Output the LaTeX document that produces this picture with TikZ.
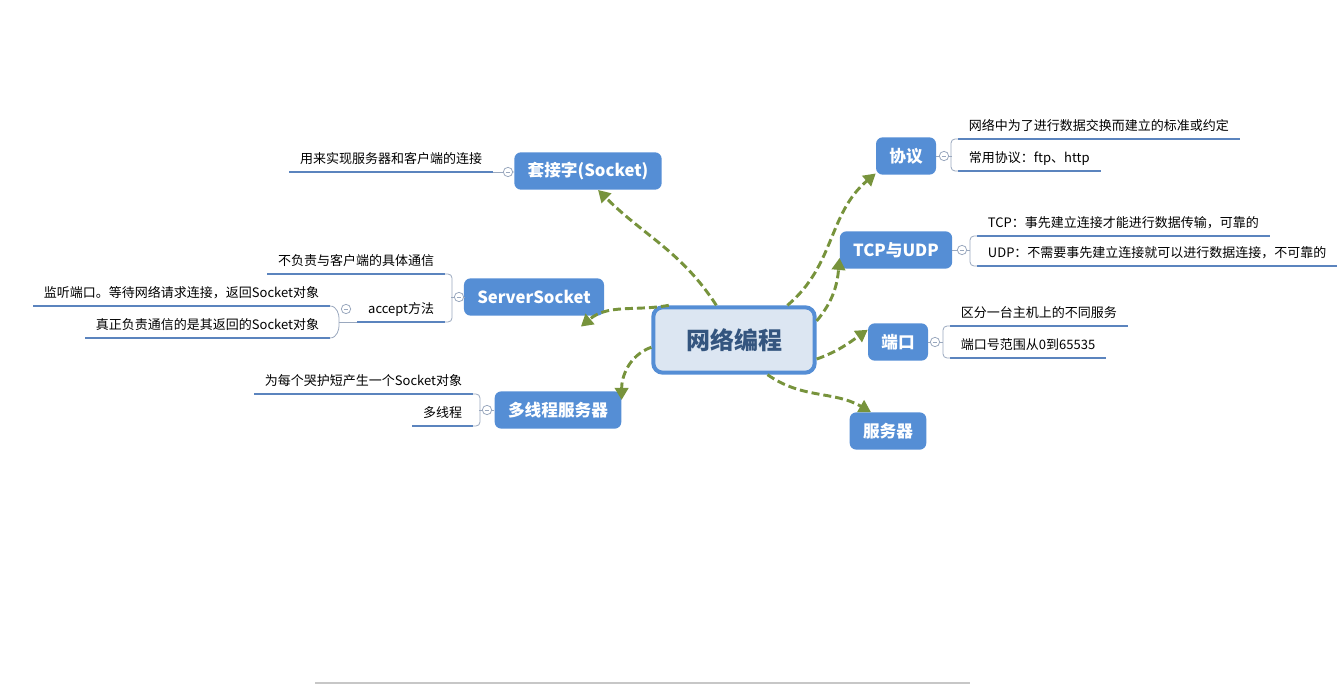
\documentclass[tikz,border=0pt]{standalone}
\usepackage{fontspec}
\setmainfont{Noto Sans CJK SC}
\usepackage{xcolor}
\usepackage{tikz}
\usetikzlibrary{arrows.meta}
\usetikzlibrary{positioning}

\definecolor{topicblue}{HTML}{558ED5}
\definecolor{rootfill}{HTML}{DCE6F2}
\definecolor{roottext}{HTML}{34557F}
\definecolor{linegreen}{HTML}{77933C}
\definecolor{ulineblue}{HTML}{5B84BE}
\definecolor{foldgray}{HTML}{9AA8BE}

\begin{document}
\begin{tikzpicture}[
    x=0.75pt, y=-0.75pt,
    root/.style={draw=topicblue, line width=3pt, fill=rootfill, rounded corners=7pt,
      minimum width=121pt, minimum height=49pt, text=roottext,
      font=\bfseries\fontsize{18}{20}\selectfont},
    topic/.style={fill=topicblue, rounded corners=5pt, text=white, inner xsep=10pt,
      minimum height=28pt, font=\bfseries\fontsize{12.5}{14}\selectfont},
    leaf/.style={inner xsep=8pt, inner ysep=4.5pt, text height=8pt, text depth=2pt,
      font=\fontsize{9.75}{11}\selectfont},
    fold/.style={circle, draw=foldgray, fill=white, line width=0.6pt, minimum size=7pt,
      inner sep=0pt, path picture={\draw[foldgray, line width=0.6pt]
        ([xshift=1.8pt]path picture bounding box.west) --
        ([xshift=-1.8pt]path picture bounding box.east);}},
    link/.style={linegreen, line width=2.2pt, dash pattern=on 6pt off 3pt,
      -{Triangle[length=9pt,width=10pt]}},
    uline/.style={ulineblue, line width=2.2pt},
    brk/.style={foldgray, line width=0.6pt, rounded corners=3pt},
  ]

  \useasboundingbox (0,0) rectangle (1341,684);

  \node[root] (c) at (734,340) {网络编程};

  \node[topic] (sk)  at (588,171) {套接字(Socket)};
  \node[topic] (ss)  at (534,297) {ServerSocket};
  \node[topic] (mt)  at (558,410) {多线程服务器};
  \node[topic] (xy)  at (906,156) {协议};
  \node[topic] (tu)  at (896,250) {TCP与UDP};
  \node[topic] (dk)  at (898,342) {端口};
  \node[topic] (fwq) at (888,431) {服务器};

  % left side
  \node[leaf, anchor=south east] (sk1) at (493,172) {用来实现服务器和客户端的连接};
  \node[leaf, anchor=south east] (ss1) at (445,274) {不负责与客户端的具体通信};
  \node[leaf, anchor=south east] (ss2) at (445,322) {accept方法};
  \node[leaf, anchor=south east] (ac1) at (330,306) {监听端口。等待网络请求连接，返回Socket对象};
  \node[leaf, anchor=south east] (ac2) at (330,338) {真正负责通信的是其返回的Socket对象};
  \node[leaf, anchor=south east] (mt1) at (473,394) {为每个哭护短产生一个Socket对象};
  \node[leaf, anchor=south east] (mt2) at (473,426) {多线程};

  % right side
  \node[leaf, anchor=south west] (xy1) at (958,139) {网络中为了进行数据交换而建立的标准或约定};
  \node[leaf, anchor=south west] (xy2) at (958,171) {常用协议：ftp、http};
  \node[leaf, anchor=south west] (tu1) at (977,236) {TCP：事先建立连接才能进行数据传输，可靠的};
  \node[leaf, anchor=south west] (tu2) at (977,266) {UDP：不需要事先建立连接就可以进行数据连接，不可靠的};
  \node[leaf, anchor=south west] (dk1) at (950,326) {区分一台主机上的不同服务};
  \node[leaf, anchor=south west] (dk2) at (950,358) {端口号范围从0到65535};

  \node[fold] (skc) at (508,172) {};
  \node[fold] (ssc) at (459,297) {};
  \node[fold] (acc) at (346,309) {};
  \node[fold] (mtc) at (487,410) {};
  \node[fold] (xyc) at (944,156) {};
  \node[fold] (tuc) at (962,250) {};
  \node[fold] (dkc) at (935,342) {};
  \coordinate (acb) at (339,322);

  \foreach \n in {sk1,ss1,ss2,ac1,ac2,mt1,mt2,xy1,xy2,tu1,tu2,dk1,dk2}
    \draw[uline] (\n.south west) -- (\n.south east);

  \draw[brk] (sk) -- (skc);
  \draw[brk] (skc) -- (sk1.south east);
  \draw[brk] (ss) -- (ssc);
  \draw[brk] (ssc.west) -- ++(-3,0);
  \draw[brk] (ss1.south east) -- ++(7,0) |- (ss2.south east);
  \draw[brk] (ac1.south east) to[out=0,in=90] (acb) to[out=-90,in=0] (ac2.south east);
  \draw[brk] (acb) -- (ss2.south west);
  \draw[brk] (mt) -- (mtc);
  \draw[brk] (mtc.west) -- ++(-3,0);
  \draw[brk] (mt1.south east) -- ++(7,0) |- (mt2.south east);
  \draw[brk] (xy) -- (xyc);
  \draw[brk] (xyc.east) -- ++(3,0);
  \draw[brk] (xy1.south west) -- ++(-7,0) |- (xy2.south west);
  \draw[brk] (tu) -- (tuc);
  \draw[brk] (tuc.east) -- ++(3,0);
  \draw[brk] (tu1.south west) -- ++(-7,0) |- (tu2.south west);
  \draw[brk] (dk) -- (dkc);
  \draw[brk] (dkc.east) -- ++(3,0);
  \draw[brk] (dk1.south west) -- ++(-7,0) |- (dk2.south west);

  \draw[link] (c.117) to[out=123,in=-45] (sk.-62);
  \draw[link] (c.152) to[out=190,in=40] ([yshift=-8pt]ss.-22);
  \draw[link] (c.185) to[out=200,in=90] (mt.9);
  \draw[link] (c.33)  to[out=40,in=-140] (xy.210);
  \draw[link] (c.13)  to[out=50,in=-95] (tu.188);
  \draw[link] (c.-13) to[out=20,in=-145] (dk.158);
  \draw[link] (c.-46) to[out=-35,in=150] (fwq.132);

  % scroll bar at the bottom
  \draw[black!22, line width=2pt] (315,683) -- (970,683);

\end{tikzpicture}
\end{document}
